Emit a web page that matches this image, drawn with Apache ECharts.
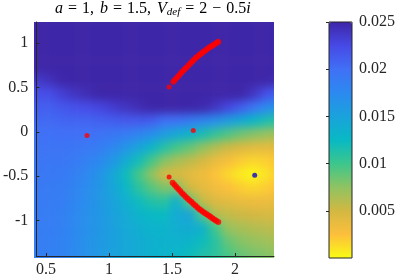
<!DOCTYPE html>
<html><head><meta charset="utf-8">
<script src="https://cdn.jsdelivr.net/npm/echarts@6/dist/echarts.min.js"></script>
<style>
html,body{margin:0;padding:0;background:#fff;}
#stage{position:relative;width:407px;height:278px;overflow:hidden;background:#fff;}
#heatWrap{position:absolute;overflow:hidden;}
#heat{position:absolute;filter:blur(5px);}
#main{position:absolute;left:0;top:0;width:407px;height:278px;}
</style></head><body>
<div id="stage"><div id="heatWrap"><div id="heat"></div></div><div id="main"></div></div>
<script>
// ---- axes / ticks ----
const xRange = [0.424, 2.309];
const yRange = [-1.40, 1.24];
const xTicks = [0.5, 1, 1.5, 2];
const yTicks = [-1, -0.5, 0, 0.5, 1];
const cRange = [0, 0.025];
const cTickStep = 0.005;

// ---- field sample grid (cell centres) ----
const fieldX = [0.35,0.45,0.55,0.65,0.75,0.85,0.95,1.05,1.15,1.25,1.35,1.45,1.55,1.65,1.75,1.85,1.95,2.05,2.15,2.25,2.35];
const fieldY = [1.33,1.18,1.03,0.88,0.73,0.58,0.43,0.28,0.13,-0.02,-0.17,-0.32,-0.47,-0.62,-0.77,-0.92,-1.07,-1.22,-1.37,-1.52]; // top -> bottom
const fieldRows = [
[.03,.03,.03,.03,.03,.03,.03,.03,.03,.03,.03,.03,.03,.03,.03,.03,.03,.03,.03,.03,.03],
[.03,.03,.03,.03,.03,.03,.03,.03,.03,.03,.03,.03,.03,.03,.03,.03,.03,.03,.03,.03,.03],
[.03,.03,.03,.03,.03,.03,.03,.03,.03,.03,.03,.03,.03,.03,.03,.03,.03,.03,.03,.03,.03],
[.03,.03,.03,.03,.03,.03,.03,.03,.03,.03,.03,.03,.03,.03,.03,.03,.03,.03,.03,.03,.03],
[.0252,.0258,.027,.028,.029,.03,.03,.03,.03,.03,.03,.03,.03,.03,.03,.03,.03,.03,.03,.029,.028],
[.0238,.0236,.0242,.0249,.027,.028,.029,.03,.03,.03,.03,.03,.03,.03,.03,.03,.03,.03,.028,.0262,.0245],
[.0225,.0222,.0222,.0232,.024,.0246,.0255,.027,.028,.028,.029,.029,.029,.029,.029,.029,.028,.0255,.024,.0222,.0208],
[.0214,.0212,.0211,.0216,.022,.0224,.0228,.0234,.024,.0245,.025,.0255,.0255,.0252,.0248,.024,.0228,.0213,.0196,.0176,.0162],
[.0207,.0205,.0204,.0207,.0208,.0208,.021,.0212,.0215,.0215,.0212,.02,.0198,.019,.018,.017,.0156,.0142,.0128,.0117,.0108],
[.0202,.02,.0199,.02,.02,.0199,.0197,.0193,.0188,.018,.017,.0155,.0142,.013,.0118,.0106,.0095,.0085,.0078,.0072,.0068],
[.0199,.0197,.0196,.0196,.0194,.0191,.0186,.0177,.0163,.0148,.013,.0112,.0098,.0088,.0075,.0062,.0052,.0045,.004,.0039,.004],
[.0197,.0195,.0193,.0193,.0189,.0183,.0174,.016,.014,.012,.0098,.0078,.0066,.0058,.0048,.0037,.0028,.002,.0016,.0018,.0024],
[.0195,.0193,.0191,.019,.0184,.0176,.0163,.0145,.0122,.0098,.0075,.0048,.0047,.004,.0033,.0024,.0015,.0007,.0001,.001,.0019],
[.0193,.0191,.0189,.0188,.018,.0172,.016,.0146,.0128,.0108,.0092,.008,.008,.005,.004,.0032,.0025,.0019,.0016,.0019,.0025],
[.0192,.019,.0188,.0186,.0178,.017,.016,.0149,.0136,.0122,.0112,.0108,.0135,.009,.0055,.0045,.004,.0036,.0034,.0034,.0037],
[.0191,.0189,.0187,.0184,.0176,.0168,.016,.0151,.0141,.0132,.0125,.0124,.014,.0148,.0095,.0062,.0056,.0052,.0049,.0047,.0047],
[.019,.0188,.0186,.0183,.0175,.0167,.016,.0152,.0144,.0138,.0132,.0131,.0138,.014,.0135,.01,.0072,.0066,.0062,.0059,.0057],
[.0189,.0187,.0185,.0182,.0174,.0166,.0159,.0152,.0145,.014,.0135,.0133,.0134,.013,.0122,.011,.0088,.0078,.0073,.0069,.0066],
[.0188,.0186,.0184,.0181,.0173,.0166,.0158,.0151,.0145,.014,.0135,.0131,.0128,.0122,.0114,.0108,.0097,.0087,.0082,.0078,.0074],
[.0188,.0186,.0184,.018,.0172,.0165,.0157,.015,.0144,.0139,.0134,.0129,.0124,.0117,.011,.0105,.01,.0093,.0088,.0084,.008]
];

// ---- points ----
const upperX = [1.510,1.525,1.540,1.555,1.570,1.585,1.600,1.615,1.630,1.645,1.660,1.675,1.690,1.705,1.720,1.735,1.750,1.765,1.780,1.795,1.810,1.825,1.840,1.855,1.867];
const upperY = [0.565,0.589,0.613,0.637,0.661,0.685,0.707,0.728,0.750,0.772,0.793,0.815,0.836,0.854,0.870,0.887,0.903,0.919,0.935,0.951,0.965,0.979,0.992,1.006,1.017];
const lowerX = [1.505,1.520,1.535,1.550,1.565,1.580,1.595,1.610,1.625,1.640,1.655,1.670,1.685,1.700,1.715,1.730,1.745,1.760,1.775,1.790,1.805,1.820,1.835,1.850,1.867];
const lowerY = [-0.573,-0.597,-0.621,-0.645,-0.668,-0.692,-0.713,-0.733,-0.753,-0.773,-0.792,-0.812,-0.831,-0.850,-0.869,-0.885,-0.900,-0.915,-0.929,-0.944,-0.958,-0.973,-0.988,-1.002,-1.017];
const redSingles = [[0.826,-0.041],[1.669,0.015],[1.477,0.508],[1.477,-0.508]];
const bluePoint = [[2.156,-0.49]];

const cmap = ['#F9FB15','#FDBF3C','#D2B842','#8FC362','#3CC68C','#08B9C4','#1AA2DC','#2C89F0','#4070F6','#4749E6','#3E26A8'];

// ---- layout ----
const plot = {left:34, top:22, width:240, height:236};
const sx = plot.width/(xRange[1]-xRange[0]);
const sy = plot.height/(yRange[1]-yRange[0]);
const dxHalf = (fieldX[1]-fieldX[0])/2, dyHalf = (fieldY[0]-fieldY[1])/2;
const hx0 = fieldX[0]-dxHalf, hx1 = fieldX[fieldX.length-1]+dxHalf;
const hy1 = fieldY[0]+dyHalf, hy0 = fieldY[fieldY.length-1]-dyHalf;
const wrap = document.getElementById('heatWrap');
Object.assign(wrap.style,{left:plot.left+'px',top:plot.top+'px',width:plot.width+'px',height:plot.height+'px'});
const heatDiv = document.getElementById('heat');
Object.assign(heatDiv.style,{
  left:((hx0-xRange[0])*sx)+'px', top:((yRange[1]-hy1)*sy)+'px',
  width:((hx1-hx0)*sx)+'px', height:((hy1-hy0)*sy)+'px'});

// ---- heat layer ----
const heatData = [];
const nR = fieldRows.length;
fieldRows.forEach((row, r) => {
  row.forEach((v, c) => heatData.push([c, nR-1-r, Math.min(v, cRange[1])]));
});
const heat = echarts.init(heatDiv, null, {renderer:'canvas'});
heat.setOption({
  animation:false,
  grid:{left:0,right:0,top:0,bottom:0},
  xAxis:{type:'category', data:fieldX.map(String), show:false},
  yAxis:{type:'category', data:fieldY.slice().reverse().map(String), show:false},
  visualMap:{show:false, min:cRange[0], max:cRange[1], inRange:{color:cmap}, seriesIndex:0},
  series:[{type:'heatmap', data:heatData, itemStyle:{borderWidth:0}, emphasis:{disabled:true}}]
});

// ---- main layer ----
const font = '"Liberation Serif", "Times New Roman", serif';
const axisCol = '#262626';
const lbl = {fontFamily:font, fontSize:16, color:axisCol, fontWeight:'normal'};
const zip = (a,b) => a.map((v,i)=>[v,b[i]]);
const chart = echarts.init(document.getElementById('main'), null, {renderer:'canvas'});
chart.setOption({
  animation:false,
  backgroundColor:'transparent',
  title:{
    text:'{i|a}{o|=}1,{sp| }{i|b}{o|=}1.5,{sp| }{i|V}{s|def}{o|=}2{m|\u2212}0.5{i|i}',
    left:55, top:0, padding:0,
    textStyle:{fontFamily:font, fontSize:16, fontWeight:'normal', color:'#000', lineHeight:18,
      rich:{
        i:{fontFamily:font, fontSize:16, fontWeight:'normal', fontStyle:'italic', lineHeight:18},
        o:{fontFamily:font, fontSize:16, fontWeight:'normal', lineHeight:18, padding:[0,5,0,5]},
        m:{fontFamily:font, fontSize:16, fontWeight:'normal', lineHeight:18, padding:[0,5,0,5]},
        sp:{fontFamily:font, fontSize:16, fontWeight:'normal', lineHeight:18, padding:[0,2,0,0]},
        s:{fontFamily:font, fontSize:11, fontWeight:'normal', fontStyle:'italic', lineHeight:10, verticalAlign:'bottom'}
      }}
  },
  grid:[
    {left:plot.left, top:plot.top, width:plot.width, height:plot.height},
    {left:329, top:22, width:23, height:236, show:true, borderColor:axisCol, borderWidth:1, backgroundColor:'transparent', z:10}
  ],
  xAxis:[
    {gridIndex:0, type:'value', min:xRange[0], max:xRange[1],
     axisLine:{show:true, onZero:false, lineStyle:{color:axisCol, width:1}},
     axisTick:{show:true, inside:true, length:3, customValues:xTicks, lineStyle:{color:axisCol}},
     axisLabel:{customValues:xTicks, margin:6, ...lbl},
     splitLine:{show:false}},
    {gridIndex:1, type:'value', min:0, max:1, show:false}
  ],
  yAxis:[
    {gridIndex:0, type:'value', min:yRange[0], max:yRange[1],
     axisLine:{show:true, onZero:false, lineStyle:{color:axisCol, width:1}},
     axisTick:{show:true, inside:true, length:3, customValues:yTicks, lineStyle:{color:axisCol}},
     axisLabel:{customValues:yTicks, margin:8, ...lbl},
     splitLine:{show:false}},
    {gridIndex:1, type:'value', min:cRange[0], max:cRange[1], interval:cTickStep, position:'right', z:10,
     axisLine:{show:false},
     axisTick:{show:true, inside:true, length:3, lineStyle:{color:axisCol}},
     axisLabel:{showMinLabel:false, margin:7, ...lbl},
     splitLine:{show:false}}
  ],
  visualMap:{type:'continuous', min:cRange[0], max:cRange[1], inRange:{color:cmap}, seriesIndex:[],
    left:329, top:22, itemWidth:23, itemHeight:236, padding:0, calculable:false, hoverLink:false, text:null, show:true},
  series:[
    {type:'scatter', xAxisIndex:0, yAxisIndex:0, data:zip(upperX,upperY), symbolSize:6, itemStyle:{color:'#FF0000'}, silent:true},
    {type:'scatter', xAxisIndex:0, yAxisIndex:0, data:zip(lowerX,lowerY), symbolSize:6, itemStyle:{color:'#FF0000'}, silent:true},
    {type:'scatter', xAxisIndex:0, yAxisIndex:0, data:redSingles, symbolSize:5, itemStyle:{color:'#FF0000'}, silent:true},
    {type:'scatter', xAxisIndex:0, yAxisIndex:0, data:bluePoint, symbolSize:5, itemStyle:{color:'#0A0ACC'}, silent:true}
  ]
});
</script>
</body></html>
